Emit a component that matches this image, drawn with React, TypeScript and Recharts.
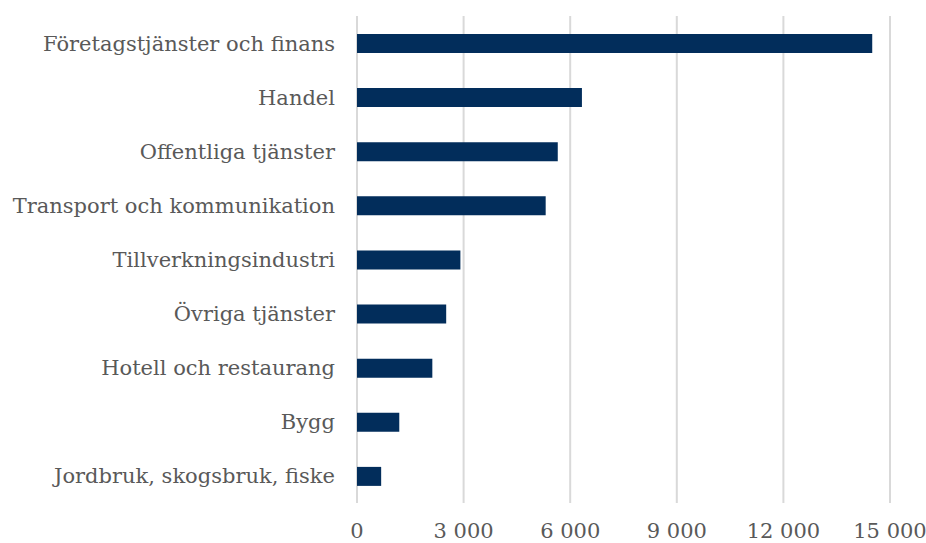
import { BarChart, Bar, XAxis, YAxis, CartesianGrid } from "recharts";

const categories = [
  "Företagstjänster och finans",
  "Handel",
  "Offentliga tjänster",
  "Transport och kommunikation",
  "Tillverkningsindustri",
  "Övriga tjänster",
  "Hotell och restaurang",
  "Bygg",
  "Jordbruk, skogsbruk, fiske",
];

const values = [14500, 6330, 5650, 5310, 2910, 2510, 2120, 1190, 680];

const xTicks = [0, 3000, 6000, 9000, 12000, 15000];

const data = categories.map((name, i) => ({ name, value: values[i] }));

const FONT = "'DejaVu Serif', serif";
const TEXT = "#595959";

const fmt = (v: number) => v.toLocaleString("sv-SE").replace(/\u00a0/g, " ");

export default function App() {
  return (
    <div style={{ position: "absolute", left: 0, top: 0, background: "#fff" }}>
      <BarChart
        width={926}
        height={543}
        data={data}
        layout="vertical"
        margin={{ top: 16, right: 36, bottom: 0, left: 0 }}
      >
        <CartesianGrid horizontal={false} stroke="#d9d9d9" strokeWidth={2} />
        <XAxis
          type="number"
          domain={[0, 15000]}
          ticks={xTicks}
          tickFormatter={fmt}
          axisLine={false}
          tickLine={false}
          tickMargin={14}
          height={40}
          interval={0}
          tick={{ fill: TEXT, fontFamily: FONT, fontSize: 21 }}
        />
        <YAxis
          type="category"
          dataKey="name"
          width={357}
          axisLine={false}
          tickLine={false}
          tickMargin={16}
          interval={0}
          tick={{ fill: TEXT, fontFamily: FONT, fontSize: 21 }}
        />
        <Bar dataKey="value" fill="#022d5b" barSize={19} isAnimationActive={false} />
      </BarChart>
    </div>
  );
}
